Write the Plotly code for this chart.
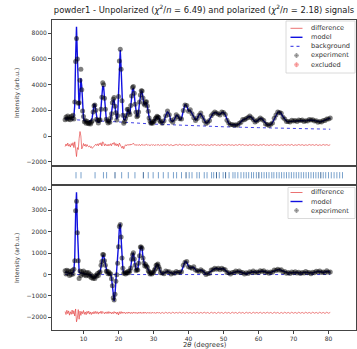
import plotly.graph_objects as go

# ---------------- data ----------------
two_theta = [
    4.75, 5.0, 5.25, 5.5, 5.75, 6.0, 6.25, 6.5, 6.75, 7.0,
    7.25, 7.5, 7.75, 8.0, 8.25, 8.5, 8.75, 9.0, 9.25, 9.5,
    9.75, 10.0, 10.25, 10.5, 10.75, 11.0, 11.25, 11.5, 11.75, 12.0,
    12.25, 12.5, 12.75, 13.0, 13.25, 13.5, 13.75, 14.0, 14.25, 14.5,
    14.75, 15.0, 15.25, 15.5, 15.75, 16.0, 16.25, 16.5, 16.75, 17.0,
    17.25, 17.5, 17.75, 18.0, 18.25, 18.5, 18.75, 19.0, 19.25, 19.5,
    19.75, 20.0, 20.25, 20.5, 20.75, 21.0, 21.25, 21.5, 21.75, 22.0,
    22.25, 22.5, 22.75, 23.0, 23.25, 23.5, 23.75, 24.0, 24.25, 24.5,
    24.75, 25.0, 25.25, 25.5, 25.75, 26.0, 26.25, 26.5, 26.75, 27.0,
    27.25, 27.5, 27.75, 28.0, 28.25, 28.5, 28.75, 29.0, 29.25, 29.5,
    29.75, 30.0, 30.25, 30.5, 30.75, 31.0, 31.25, 31.5, 31.75, 32.0,
    32.5, 33.0, 33.5, 34.0, 34.5, 35.0, 35.5, 36.0, 36.5, 37.0,
    37.5, 38.0, 38.5, 39.0, 39.5, 40.0, 40.5, 41.0, 41.5, 42.0,
    42.5, 43.0, 43.5, 44.0, 44.5, 45.0, 45.5, 46.0, 46.5, 47.0,
    47.5, 48.0, 48.5, 49.0, 49.5, 50.0, 50.5, 51.0, 51.5, 52.0,
    52.5, 53.0, 53.5, 54.0, 54.5, 55.0, 55.5, 56.0, 56.5, 57.0,
    57.5, 58.0, 58.5, 59.0, 59.5, 60.0, 60.5, 61.0, 61.5, 62.0,
    62.5, 63.0, 63.5, 64.0, 64.5, 65.0, 65.5, 66.0, 66.5, 67.0,
    67.5, 68.0, 68.5, 69.0, 69.5, 70.0, 70.5, 71.0, 71.5, 72.0,
    72.5, 73.0, 73.5, 74.0, 74.5, 75.0, 75.5, 76.0, 76.5, 77.0,
    77.5, 78.0, 78.5, 79.0, 79.5, 80.0, 80.5,
]

# unpolarized signal: model and (experiment - model)
model_unpol = [
    1380, 1400, 1410, 1400, 1390, 1400, 1420, 1430, 1420, 1440,
    1520, 2400, 6100, 8500, 6200, 2900, 2100, 3300, 4500, 3900,
    2100, 1400, 1200, 1140, 1120, 1110, 1100, 1100, 1110, 1130,
    1200, 1450, 2050, 2450, 2450, 1950, 1350, 1120, 1080, 1090,
    1250, 1900, 3100, 3900, 3850, 3000, 2000, 1350, 1150, 1100,
    1090, 1120, 1300, 1800, 2450, 2800, 2800, 2350, 1700, 1300,
    1500, 3200, 5700, 6700, 5300, 3000, 1700, 1300, 1250, 1350,
    1650, 2050, 2100, 1800, 1700, 2300, 3100, 3650, 3700, 3300,
    2500, 1800, 1550, 1550, 1900, 2600, 3250, 3500, 3450, 3000,
    2500, 2450, 2600, 2600, 2350, 1900, 1450, 1150, 1030, 1000,
    1020, 1100, 1200, 1330, 1450, 1500, 1500, 1420, 1250, 1100,
    1020, 1150, 1600, 1900, 1700, 1200, 1120, 1300, 1620, 1550,
    1280, 1350, 1950, 2450, 2350, 1950, 2000, 1750, 1400, 1250,
    1350, 1650, 1750, 1500, 1150, 1000, 1050, 1250, 1550, 1750,
    1830, 1820, 1700, 1680, 1820, 1850, 1650, 1250, 980, 900,
    880, 870, 850, 860, 950, 1100, 1250, 1300, 1350, 1480,
    1530, 1450, 1250, 1120, 1150, 1300, 1380, 1330, 1150, 960,
    870, 850, 880, 1050, 1350, 1650, 1850, 1880, 1750, 1500,
    1280, 1150, 1100, 1120, 1180, 1200, 1180, 1170, 1200, 1230,
    1210, 1180, 1170, 1200, 1250, 1260, 1230, 1200, 1150, 1120,
    1110, 1120, 1160, 1230, 1300, 1350, 1380,
]
resid_unpol = [
    -120, 80, -60, 150, -90, 40, -160, 110, -40, 180,
    -200, 250, -300, -900, -200, -350, 500, 1050, 700, -300,
    -150, 120, -80, 60, -130, 40, -90, -150, -60, -200,
    -120, -260, -180, -90, -30, 60, -40, 90, -60, 130,
    20, 180, -80, 250, 150, -60, 90, -50, 40, -80,
    60, -40, 100, -60, 140, 60, 200, -40, 120, -60,
    80, -120, 150, 50, -100, -250, -80, -300, -120, 20,
    -60, 40, -30, 60, -20, 80, 10, 120, 150, 40,
    -30, 50, -40, 30, -20, 40, -60, 20, 60, -40,
    30, -30, 40, 60, -20, 30, -40, 20, -30, 40,
    -20, 30, -40, 20, -30, 40, -20, 30, -40, 20,
    -30, 40, -20, 50, -40, 30, -50, 20, 40, -30,
    60, -20, 30, -40, 20, -30, 50, -20, 30, -40,
    20, -30, 40, -20, 30, -30, 20, -40, 30, -20,
    40, -30, 20, -40, 50, -20, 30, -30, 40, -20,
    20, -40, 30, -30, 50, -20, 40, -30, 20, -40,
    30, -20, 40, -30, 20, -40, 30, -20, 50, -30,
    20, -40, 30, -30, 40, -20, 30, -40, 20, -30,
    40, -20, 30, -30, 50, -40, 20, -30, 40, -20,
    30, -40, 20, -30, 40, -20, 30, -30, 40, -40,
    20, -30, 40, -20, 30, -30, 20,
]
bkg_x = [4.75, 10, 20, 30, 40, 50, 60, 70, 80.5]
bkg_unpol = [1300, 1250, 1100, 930, 800, 720, 650, 590, 530]

# polarized signal: model and (experiment - model)
model_pol = [
    120, 100, 80, 90, 70, 60, 80, 70, 60, 80,
    150, 800, 2800, 3850, 2200, 500, 120, 90, 80, 70,
    60, 60, 50, 40, 30, 20, 10, 0, -20, -40,
    -70, -100, -140, -170, -150, -100, -50, 0, 20, 50,
    150, 350, 650, 880, 900, 700, 400, 180, 100, 80,
    60, 40, 0, -150, -550, -1050, -1250, -900, -350, 50,
    500, 1400, 2200, 2380, 1700, 800, 250, 80, 50, 60,
    80, 100, 110, 100, 150, 350, 700, 950, 980, 750,
    400, 220, 200, 250, 500, 900, 1250, 1320, 1200, 800,
    500, 420, 440, 420, 320, 200, 100, 60, 50, 50,
    60, 100, 180, 300, 420, 470, 460, 380, 240, 110,
    50, 70, 130, 150, 110, 60, 50, 80, 120, 110,
    80, 150, 420, 600, 580, 380, 310, 330, 340, 230,
    150, 170, 210, 180, 80, 20, 30, 90, 180, 250,
    280, 280, 260, 250, 270, 280, 200, 110, 60, 50,
    70, 110, 140, 150, 140, 110, 70, 50, 50, 70,
    110, 130, 130, 110, 100, 120, 150, 170, 160, 120,
    90, 80, 100, 140, 180, 210, 230, 230, 200, 150,
    110, 80, 70, 80, 90, 100, 110, 100, 80, 70,
    80, 100, 110, 100, 80, 70, 80, 100, 130, 150,
    140, 110, 100, 120, 150, 130, 100,
]
resid_pol = [
    60, -80, 120, -40, 90, -110, 50, -70, 130, -60,
    100, -150, 180, -420, -250, 150, -300, 80, -120, 60,
    -40, 110, -70, 40, -90, 70, -30, 80, -60, 40,
    -80, 30, -50, 60, -40, 70, -30, 50, -60, 40,
    -20, 80, -40, 60, 20, -50, 40, -30, 50, -40,
    60, -20, 40, -50, 30, -40, 60, -20, 40, -60,
    30, -100, 50, -40, 60, -30, 40, -20, 30, -40,
    20, -30, 40, -20, 30, -40, 20, -30, 40, -20,
    30, -30, 20, -40, 30, -20, 40, -30, 20, -30,
    40, -20, 30, -30, 20, -20, 30, -30, 20, -20,
    30, -20, 20, -30, 20, -20, 30, -20, 20, -30,
    20, -30, 30, -20, 20, -30, 30, -20, 20, -20,
    30, -20, 20, -30, 30, -20, 20, -30, 20, -20,
    30, -30, 20, -20, 30, -20, 20, -30, 30, -20,
    20, -30, 30, -20, 20, -30, 30, -20, 20, -30,
    30, -20, 20, -30, 30, -20, 20, -30, 30, -20,
    20, -30, 30, -20, 20, -20, 30, -30, 20, -20,
    30, -20, 20, -30, 30, -20, 20, -30, 20, -30,
    30, -20, 20, -30, 30, -20, 20, -30, 30, -20,
    20, -30, 30, -20, 20, -30, 30, -20, 20, -30,
    30, -20, 20, -30, 30, -20, 20,
]
bkg_pol_x = [4.75, 80.5]
bkg_pol = [0, 0]

# Bragg peak positions (2theta, degrees); strong reflections listed separately
bragg_pos = [
    7.86, 9.29, 13.3, 15.7, 16.6, 20.9, 22.8, 24.7,
    28.5, 29.9, 31.4, 32.8, 34.2, 35.7, 36.6, 38.0, 40.2,
    41.0, 42.4, 43.1, 44.5, 45.3, 46.6, 47.2, 48.8, 49.9,
    51.6, 52.7, 53.3, 54.1, 55.0, 55.8, 56.5, 57.2, 58.0,
    58.6, 59.4, 60.9, 61.6, 62.3, 63.0, 63.8, 64.4, 65.2,
    65.9, 66.6, 67.3, 68.0, 68.7, 69.4, 70.1, 70.8, 71.5, 72.2,
    72.9, 73.6, 74.3, 75.0, 75.7, 76.4, 77.1, 78.5, 79.2,
    80.0, 80.8, 81.6, 82.4, 83.2, 84.0,
]
bragg_strong = [19.0, 27.1, 39.3, 48.0, 50.6, 60.1, 77.8]

assert len(two_theta) == len(model_unpol) == len(resid_unpol) == len(model_pol) == len(resid_pol)

DIFF_SHIFT_UNPOL = -700
DIFF_SHIFT_POL = -1790

exp_unpol = [m + r for m, r in zip(model_unpol, resid_unpol)]
exp_pol = [m + r for m, r in zip(model_pol, resid_pol)]
diff_unpol = [r + DIFF_SHIFT_UNPOL for r in resid_unpol]
diff_pol = [r + DIFF_SHIFT_POL for r in resid_pol]

# ---------------- styling ----------------
FONT = "DejaVu Sans"
TXT = "#333333"
RED = "rgba(225,45,45,0.75)"
BLUE = "#1010e0"
EXP_FILL = "rgba(0,0,0,0.5)"
AXC = "#444444"
BRAGG = "#6b97c6"
BRAGG_DARK = "#2a5a90"

W, H = 357, 349
ML, MR, MT, MB = 52, 1, 20, 19
PW, PH = W - ML - MR, H - MT - MB


def px(xp):
    return (xp - ML) / PW


def py(yp):
    return (H - MB - yp) / PH


XR = [1.0, 87.86]

fig = go.Figure()

for xa, ya, diff, bx, by, expv, mod in [
    ("x", "y", diff_unpol, bkg_x, bkg_unpol, exp_unpol, model_unpol),
    ("x3", "y3", diff_pol, bkg_pol_x, bkg_pol, exp_pol, model_pol),
]:
    fig.add_trace(go.Scatter(x=two_theta, y=diff, mode="lines", xaxis=xa, yaxis=ya,
                             line=dict(color=RED, width=0.8), showlegend=False))
    fig.add_trace(go.Scatter(x=bx, y=by, mode="lines", xaxis=xa, yaxis=ya,
                             line=dict(color=BLUE, width=0.8, dash="dot"), showlegend=False))
    fig.add_trace(go.Scatter(x=two_theta, y=mod, mode="lines", xaxis=xa, yaxis=ya,
                             line=dict(color=BLUE, width=1.4), showlegend=False))
    fig.add_trace(go.Scatter(x=two_theta, y=expv, mode="markers", xaxis=xa, yaxis=ya,
                             marker=dict(size=5, color=EXP_FILL, line=dict(width=0)),
                             showlegend=False))

for pos, col in [(bragg_pos, BRAGG), (bragg_strong, BRAGG_DARK)]:
    fig.add_trace(go.Scatter(x=pos, y=[0] * len(pos), mode="markers",
                             xaxis="x2", yaxis="y2",
                             marker=dict(symbol="line-ns-open", size=4.5, color=col,
                                         line=dict(color=col, width=0.9)),
                             showlegend=False))

axis_common = dict(showline=True, mirror=True, linecolor=AXC, linewidth=0.9,
                   showgrid=False, zeroline=False,
                   tickfont=dict(family=FONT, size=6, color=TXT))

d_top = [py(165.5), 1.0]
d_mid = [py(185.0), py(165.5)]
d_bot = [0.0, py(185.0)]

fig.update_layout(
    width=W, height=H,
    margin=dict(l=ML, r=MR, t=MT, b=MB),
    paper_bgcolor="white", plot_bgcolor="white",
    font=dict(family=FONT, color=TXT),
    showlegend=False,
    title=dict(text="powder1 - Unpolarized (<i>χ</i><sup>2</sup>/<i>n</i> = 6.49) and "
                    "polarized (<i>χ</i><sup>2</sup>/<i>n</i> = 2.18) signals",
               x=0.5, xref="paper", xanchor="center",
               y=1 - 10 / H, yref="container", yanchor="middle",
               font=dict(family=FONT, size=8.4, color="#222222")),
    xaxis=dict(domain=[0, 1], anchor="y", range=XR, showticklabels=False, ticks="",
               **axis_common),
    yaxis=dict(domain=d_top, anchor="x", range=[-2296, 9035],
               tickvals=[-2000, 0, 2000, 4000, 6000, 8000],
               ticks="outside", ticklen=3, tickcolor=AXC, **axis_common),
    xaxis2=dict(domain=[0, 1], anchor="y2", range=XR, showticklabels=False, ticks="",
                **axis_common),
    yaxis2=dict(domain=d_mid, anchor="x2", range=[-1, 1], showticklabels=False, ticks="",
                **axis_common),
    xaxis3=dict(domain=[0, 1], anchor="y3", range=XR,
                tickvals=[10, 20, 30, 40, 50, 60, 70, 80],
                ticks="outside", ticklen=3, tickcolor=AXC, **axis_common),
    yaxis3=dict(domain=d_bot, anchor="x3", range=[-2593, 4187],
                tickvals=[-2000, -1000, 0, 1000, 2000, 3000, 4000],
                ticks="outside", ticklen=3, tickcolor=AXC, **axis_common),
)

annotations = [
    dict(text="Intensity (arb.u.)", x=px(17), y=py(93), textangle=-90),
    dict(text="Intensity (arb.u.)", x=px(17), y=py(258), textangle=-90),
    dict(text="2<i>θ</i> (degrees)", x=px(205), y=py(344.5), font_size=6.8),
]
ann = []
for a in annotations:
    d = dict(xref="paper", yref="paper", showarrow=False, xanchor="center", yanchor="middle",
             font=dict(family=FONT, size=a.pop("font_size", 6), color=TXT))
    d.update(a)
    ann.append(d)

shapes = []


def legend(box, entries):
    x0, y0, x1, y1 = box
    shapes.append(dict(type="rect", xref="paper", yref="paper",
                       x0=px(x0), x1=px(x1), y0=py(y1), y1=py(y0),
                       line=dict(color="#d0d0d0", width=0.8),
                       fillcolor="rgba(255,255,255,0.85)", layer="above"))
    for label, kind, yy in entries:
        if kind in ("diff", "model", "bkg"):
            style = {"diff": dict(color=RED, width=0.9),
                     "model": dict(color=BLUE, width=1.4),
                     "bkg": dict(color=BLUE, width=0.9, dash="dot")}[kind]
            shapes.append(dict(type="line", xref="paper", yref="paper",
                               x0=px(290.5), x1=px(302.5), y0=py(yy), y1=py(yy),
                               line=style, layer="above"))
        else:
            fill = "rgba(0,0,0,0.25)" if kind == "exp" else "rgba(255,60,60,0.3)"
            edge = "rgba(0,0,0,0.3)" if kind == "exp" else "rgba(230,60,60,0.45)"
            shapes.append(dict(type="circle", xref="paper", yref="paper",
                               x0=px(294.5), x1=px(298.5), y0=py(yy + 2), y1=py(yy - 2),
                               fillcolor=fill, line=dict(color=edge, width=0.5),
                               layer="above"))
            shapes.append(dict(type="line", xref="paper", yref="paper",
                               x0=px(296.5), x1=px(296.5), y0=py(yy + 2.5), y1=py(yy - 2.5),
                               line=dict(color=edge, width=0.6), layer="above"))
            shapes.append(dict(type="line", xref="paper", yref="paper",
                               x0=px(294.5), x1=px(298.5), y0=py(yy), y1=py(yy),
                               line=dict(color=edge, width=0.6), layer="above"))
        ann.append(dict(text=label, xref="paper", yref="paper", x=px(309), y=py(yy),
                        xanchor="left", yanchor="middle", showarrow=False,
                        font=dict(family=FONT, size=6.6, color=TXT)))


legend((286, 21, 355, 73), [("difference", "diff", 28.3), ("model", "model", 37.3),
                            ("background", "bkg", 46.3), ("experiment", "exp", 55.5),
                            ("excluded", "excl", 64.7)])
legend((288, 187.5, 355, 218.5), [("difference", "diff", 192.5), ("model", "model", 201.5),
                                  ("experiment", "exp", 210.5)])

fig.update_layout(annotations=ann, shapes=shapes)
fig.write_html("out.html", config={"displayModeBar": False},
               post_script="document.body.style.margin='0';document.body.style.padding='0';")
